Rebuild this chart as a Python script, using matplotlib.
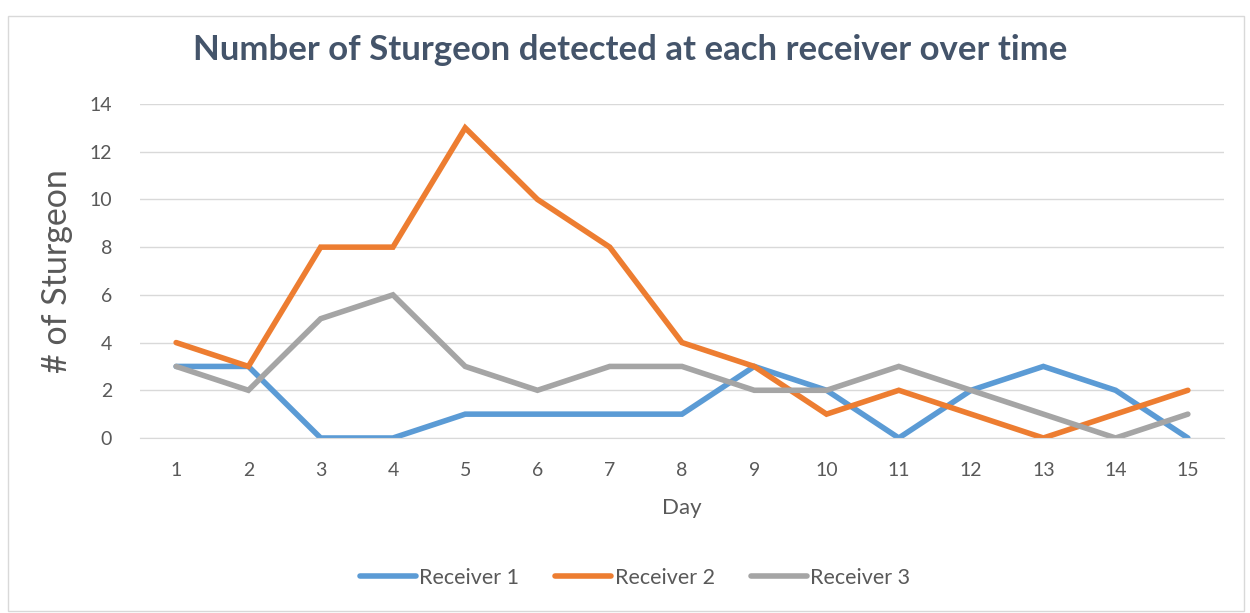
import matplotlib
matplotlib.use("Agg")
import matplotlib.pyplot as plt
from matplotlib.patches import Rectangle

days = list(range(1, 16))
receiver1 = [3, 3, 0, 0, 1, 1, 1, 1, 3, 2, 0, 2, 3, 2, 0]
receiver2 = [4, 3, 8, 8, 13, 10, 8, 4, 3, 1, 2, 1, 0, 1, 2]
receiver3 = [3, 2, 5, 6, 3, 2, 3, 3, 2, 2, 3, 2, 1, 0, 1]
series_names = ["Receiver 1", "Receiver 2", "Receiver 3"]
colors = ["#5B9BD5", "#ED7D31", "#A5A5A5"]

plt.rcParams['font.family'] = ['Lato', 'DejaVu Sans']
W, H = 1250, 613
fig = plt.figure(figsize=(W/100, H/100), dpi=100)
ax = fig.add_axes([140/W, 1-438/H, (1224-140)/W, (438-104)/H])

for vals, name, c in zip([receiver1, receiver2, receiver3], series_names, colors):
    ax.plot(days, vals, color=c, lw=4, label=name, solid_capstyle='round', solid_joinstyle='miter')

ax.set_xlim(0.5, 15.5)
ax.set_ylim(0, 14)
ax.set_yticks(range(0, 15, 2))
ax.set_xticks(days)
ax.grid(axis='y', color='#D9D9D9', lw=1)
ax.set_axisbelow(True)
for s in ['top', 'right', 'left']:
    ax.spines[s].set_visible(False)
ax.spines['bottom'].set_color('#D9D9D9')
ax.tick_params(axis='both', length=0, colors='#595959', labelsize=14)
ax.tick_params(axis='x', pad=17)
ax.tick_params(axis='y', pad=20)
ax.set_xlabel("Day", fontsize=16, color='#595959', labelpad=14)
ax.set_ylabel("# of Sturgeon", fontsize=24.5, color='#595959', labelpad=12)

fig.text(630/W, 1-50/H, "Number of Sturgeon detected at each receiver over time",
         ha='center', va='center', fontsize=25, fontweight='bold', color='#44546A')

leg = fig.legend(loc='center', bbox_to_anchor=(635/W, 1-578/H), ncol=3, frameon=False,
                 fontsize=15.5, handlelength=2.6, columnspacing=1.7, handletextpad=0.15)
for t in leg.get_texts():
    t.set_color('#595959')

fig.patches.append(Rectangle((8/W, 2/H), (1244-8)/W, (611-16)/H, transform=fig.transFigure,
                             fill=False, edgecolor='#D9D9D9', lw=1))

fig.savefig("out.png", dpi=100)
